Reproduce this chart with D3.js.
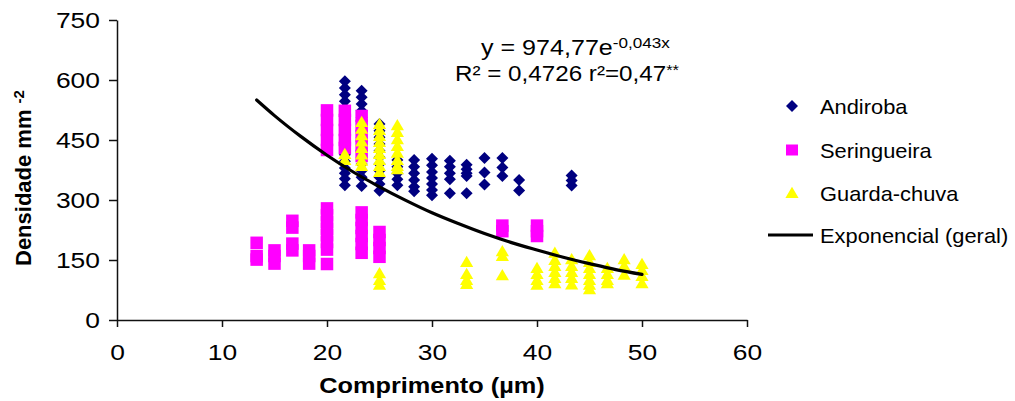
<!DOCTYPE html>
<html lang="en">

<head>
    <meta charset="utf-8">
    <script src='https://d3js.org/d3.v7.min.js'></script>
    <style>
        body { margin: 0; background: #fff; }
        text { font-family: "Liberation Sans", Arial, sans-serif; }
    </style>
</head>

<body>
    <div class="chart"></div>

    <script>
        // Data: one entry per x column, with the stacked y values
        const andiroba = [
            { x: 21.7, y: [597, 580, 563, 547, 530, 513, 497, 480, 463, 447, 430, 413, 397, 380, 367, 353, 337] },
            { x: 23.3, y: [573, 557, 540, 523, 507, 490, 473, 457, 440, 423, 407, 390, 373, 357, 335] },
            { x: 25, y: [490, 473, 457, 440, 423, 407, 390, 373, 357, 340, 323] },
            { x: 26.7, y: [400, 383, 367, 352, 337] },
            { x: 28.3, y: [400, 383, 367, 350, 333, 322] },
            { x: 30, y: [403, 387, 370, 355, 340, 325, 312] },
            { x: 31.7, y: [398, 383, 367, 352, 317] },
            { x: 33.3, y: [388, 377, 367, 360, 317] },
            { x: 35, y: [405, 369, 339] },
            { x: 36.7, y: [405, 381, 360] },
            { x: 38.3, y: [350, 324] },
            { x: 43.3, y: [361, 349, 336] }
        ];
        const seringueira = [
            { x: 13.3, y: [193, 160, 151] },
            { x: 15, y: [174, 160, 141] },
            { x: 16.7, y: [248, 231, 191, 174] },
            { x: 18.3, y: [174, 160, 141] },
            { x: 20, y: [524, 500, 475, 450, 425, 279, 262, 245, 228, 212, 195, 176, 140] },
            { x: 21.7, y: [523, 500, 475, 450, 430] },
            { x: 23.3, y: [510, 485, 460, 435, 410, 269, 250, 230, 210, 190, 168] },
            { x: 25, y: [220, 200, 180, 158] },
            { x: 36.7, y: [236, 222] },
            { x: 40, y: [236, 222, 210] }
        ];
        const guardaChuva = [
            { x: 21.7, y: [415, 400] },
            { x: 23.3, y: [495, 478, 462, 446, 430, 414, 398, 385] },
            { x: 25, y: [490, 475, 460, 445, 430, 415, 400, 385, 370, 117, 100, 88] },
            { x: 26.7, y: [487, 470, 452, 435, 418, 400, 385, 377] },
            { x: 33.3, y: [145, 115, 100, 90] },
            { x: 36.7, y: [172, 160, 112] },
            { x: 40, y: [130, 115, 100, 88] },
            { x: 41.7, y: [168, 150, 135, 120, 105, 92] },
            { x: 43.3, y: [152, 135, 120, 105, 89] },
            { x: 45, y: [162, 145, 130, 115, 100, 88, 77] },
            { x: 46.7, y: [130, 115, 100, 92] },
            { x: 48.3, y: [152, 135, 113] },
            { x: 50, y: [140, 125, 110, 92] }
        ];
        // points of the exponential trend line
        const trendX = [13.3, 15, 17.5, 20, 22.5, 25, 27.5, 30, 32.5, 35, 37.5, 40, 42.5, 45, 47.5, 50];
        const trendY = [550, 511, 459, 412, 370, 333, 299, 268, 241, 216, 194, 175, 157, 141, 126, 114];

        const xTicks = [0, 10, 20, 30, 40, 50, 60];
        const yTicks = [0, 150, 300, 450, 600, 750];
        const legendNames = ["Andiroba", "Seringueira", "Guarda-chuva", "Exponencial (geral)"];

        // Set Dimensions
        const width = 1015;
        const height = 401;
        const plotLeft = 117, plotRight = 747, plotTop = 20, plotBottom = 320;

        const svg = d3.select(".chart").append("svg")
            .attr("width", width)
            .attr("height", height);

        const x = d3.scaleLinear().domain([0, 60]).range([plotLeft, plotRight]);
        const y = d3.scaleLinear().domain([0, 750]).range([plotBottom, plotTop]);

        // flatten columns into points
        const flat = cols => cols.flatMap(c => c.y.map(v => ({ x: c.x, y: v })));

        // the original picture is a bit stretched sideways, so widen the text
        function widen(sel, f) {
            sel.each(function () {
                const len = this.getComputedTextLength();
                d3.select(this).attr("textLength", len * f).attr("lengthAdjust", "spacingAndGlyphs");
            });
        }

        // axes
        const xAxis = svg.append("g")
            .attr("transform", "translate(0," + plotBottom + ")")
            .call(d3.axisBottom(x).tickValues(xTicks).tickSize(7).tickSizeOuter(0).tickPadding(17));
        const yAxis = svg.append("g")
            .attr("transform", "translate(" + plotLeft + ",0)")
            .call(d3.axisLeft(y).tickValues(yTicks).tickSize(8).tickSizeOuter(0).tickPadding(9));
        [xAxis, yAxis].forEach(a => {
            a.select(".domain").attr("stroke", "#111").attr("stroke-width", 1.5);
            a.selectAll(".tick line").attr("stroke", "#111").attr("stroke-width", 1.5);
            a.selectAll(".tick text").attr("font-size", 22).attr("fill", "#000")
                .style("font-family", "'Liberation Sans', Arial, sans-serif");
            widen(a.selectAll(".tick text"), 1.2);
        });

        // marker shapes
        const diamond = "M0,-6L6,0L0,6L-6,0Z";
        const triangle = "M0,-6.2L6.6,5L-6.6,5Z";
        const sq = 12.5;

        // Andiroba diamonds
        svg.selectAll(".andiroba")
            .data(flat(andiroba))
            .enter()
            .append("path")
            .attr("class", "andiroba")
            .attr("d", diamond)
            .attr("transform", d => `translate(${x(d.x)},${y(d.y)})`)
            .attr("fill", "#000080");

        // Seringueira squares
        svg.selectAll(".seringueira")
            .data(flat(seringueira))
            .enter()
            .append("rect")
            .attr("class", "seringueira")
            .attr("x", d => x(d.x) - sq / 2).attr("y", d => y(d.y) - sq / 2)
            .attr("width", sq).attr("height", sq)
            .attr("fill", "#ff00ff");

        // Guarda-chuva triangles
        svg.selectAll(".guarda")
            .data(flat(guardaChuva))
            .enter()
            .append("path")
            .attr("class", "guarda")
            .attr("d", triangle)
            .attr("transform", d => `translate(${x(d.x)},${y(d.y)})`)
            .attr("fill", "#ffff00");

        // trend line
        svg.append("path")
            .datum(trendX.map((v, i) => ({ x: v, y: trendY[i] })))
            .attr("fill", "none").attr("stroke", "#000").attr("stroke-width", 3.2)
            .attr("stroke-linecap", "round")
            .attr("d", d3.line().curve(d3.curveMonotoneX)
                .x(d => x(d.x))
                .y(d => y(d.y)));

        // equation
        const eq1 = svg.append("text").attr("x", 481).attr("y", 55).attr("font-size", 22);
        eq1.append("tspan").text("y = 974,77e");
        eq1.append("tspan").attr("font-size", 15).attr("dy", -7).text("-0,043x");
        const eq2 = svg.append("text").attr("x", 455).attr("y", 81).attr("font-size", 22);
        eq2.append("tspan").text("R² = 0,4726 r²=0,47");
        eq2.append("tspan").attr("font-size", 15).attr("dy", -6).text("**");
        widen(eq1, 1.14);
        widen(eq2, 1.1);

        // axis titles
        const xTitle = svg.append("text")
            .attr("x", 432).attr("y", 393)
            .attr("text-anchor", "middle")
            .attr("font-size", 22).attr("font-weight", "bold")
            .text("Comprimento (µm)");
        widen(xTitle, 1.15);
        const yTitle = svg.append("text")
            .attr("transform", "translate(31,266) rotate(-90)")
            .attr("font-size", 22).attr("font-weight", "bold");
        yTitle.append("tspan").text("Densidade mm ");
        yTitle.append("tspan").attr("font-size", 15).attr("dy", -7).text("-2");

        // legend
        const legendY = [106, 150, 193, 235];
        const legend = svg.append("g");
        legend.append("path").attr("d", diamond).attr("transform", `translate(792,${legendY[0]})`).attr("fill", "#000080");
        legend.append("rect").attr("x", 786).attr("y", legendY[1] - 5.5).attr("width", 12).attr("height", 11).attr("fill", "#ff00ff");
        legend.append("path").attr("d", triangle).attr("transform", `translate(792,${legendY[2]})`).attr("fill", "#ffff00");
        legend.append("line").attr("x1", 768).attr("x2", 813).attr("y1", legendY[3]).attr("y2", legendY[3])
            .attr("stroke", "#000").attr("stroke-width", 3);
        const lbls = legend.selectAll(".lbl")
            .data(legendNames)
            .enter()
            .append("text")
            .attr("class", "lbl")
            .attr("x", 820).attr("y", (d, i) => legendY[i] + 7.5)
            .attr("font-size", 21)
            .text(d => d);
        widen(lbls, 1.04);
    </script>
</body>

</html>
